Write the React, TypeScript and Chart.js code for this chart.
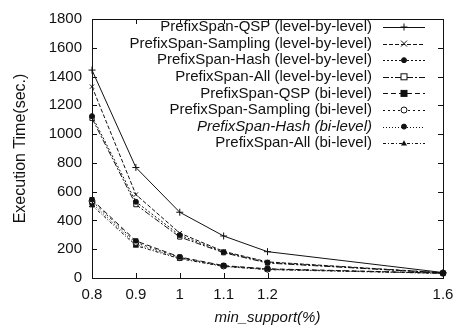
import React, { useEffect, useRef } from "react";
import { Chart, registerables } from "chart.js";

Chart.register(...registerables);

const xValues = [0.8, 0.9, 1.0, 1.1, 1.2, 1.6];
const yTicks = [0, 200, 400, 600, 800, 1000, 1200, 1400, 1600, 1800];

const seriesNames = [
  "PrefixSpan-QSP (level-by-level)",
  "PrefixSpan-Sampling (level-by-level)",
  "PrefixSpan-Hash (level-by-level)",
  "PrefixSpan-All (level-by-level)",
  "PrefixSpan-QSP (bi-level)",
  "PrefixSpan-Sampling (bi-level)",
  "PrefixSpan-Hash (bi-level)",
  "PrefixSpan-All (bi-level)",
];

const qspLevel = [1445, 768, 457, 292, 183, 38];
const samplingLevel = [1330, 580, 312, 185, 112, 36];
const hashLevel = [1125, 530, 298, 180, 108, 35];
const allLevel = [1110, 510, 285, 176, 104, 35];
const qspBi = [545, 258, 146, 86, 64, 34];
const samplingBi = [535, 248, 142, 84, 62, 33];
const hashBi = [520, 235, 138, 82, 60, 33];
const allBi = [505, 225, 134, 80, 58, 32];

const seriesValues = [qspLevel, samplingLevel, hashLevel, allLevel, qspBi, samplingBi, hashBi, allBi];

const pointStyles = ["cross", "crossRot", "circle", "rect", "rect", "circle", "circle", "triangle"];
const pointFilled = [true, true, true, false, true, false, true, true];
const pointRadii = [3.5, 3, 2.5, 3, 3, 3, 2.5, 3];
const dashes: number[][] = [[], [4, 2], [2, 2], [6, 2, 2, 2], [5, 3], [2, 3], [1, 2], [3, 2, 1, 2]];

const FONT = "'Liberation Sans', Arial, Helvetica, sans-serif";
const INK = "#111";

const framePlugin = {
  id: "frame",
  afterDraw(chart: any) {
    const { ctx, chartArea } = chart;
    const { left, right, top, bottom } = chartArea;
    const xs = chart.scales.x;
    const ys = chart.scales.y;
    ctx.save();
    ctx.strokeStyle = INK;
    ctx.lineWidth = 1;
    ctx.setLineDash([]);
    ctx.strokeRect(Math.round(left) + 0.5, Math.round(top) + 0.5, Math.round(right - left), Math.round(bottom - top));
    const tl = 5;
    ctx.beginPath();
    for (const v of yTicks) {
      const y = Math.round(ys.getPixelForValue(v)) + 0.5;
      ctx.moveTo(left, y);
      ctx.lineTo(left + tl, y);
      ctx.moveTo(right, y);
      ctx.lineTo(right - tl, y);
    }
    for (const v of xValues) {
      const x = Math.round(xs.getPixelForValue(v)) + 0.5;
      ctx.moveTo(x, bottom);
      ctx.lineTo(x, bottom - tl);
      ctx.moveTo(x, top);
      ctx.lineTo(x, top + tl);
    }
    ctx.stroke();

    // legend
    const textRight = right - 71;
    const sx0 = right - 60;
    const sx1 = right - 18;
    const row0 = top + 8;
    const rowH = 16.6;
    ctx.textAlign = "right";
    ctx.textBaseline = "middle";
    chart.data.datasets.forEach((ds: any, i: number) => {
      const y = row0 + i * rowH;
      ctx.fillStyle = INK;
      ctx.font = (i === 6 ? "italic " : "") + `15px ${FONT}`;
      ctx.fillText(ds.label, textRight, y);
      ctx.beginPath();
      ctx.setLineDash(ds.borderDash || []);
      ctx.moveTo(sx0, Math.round(y) + 0.5);
      ctx.lineTo(sx1, Math.round(y) + 0.5);
      ctx.stroke();
      ctx.setLineDash([]);
      const mx = (sx0 + sx1) / 2;
      const r = ds.pointRadius;
      ctx.beginPath();
      const st = ds.pointStyle;
      const filled = ds.pointBackgroundColor !== "#fff";
      if (st === "cross") {
        ctx.moveTo(mx - r, y); ctx.lineTo(mx + r, y);
        ctx.moveTo(mx, y - r); ctx.lineTo(mx, y + r);
        ctx.stroke();
      } else if (st === "crossRot") {
        ctx.moveTo(mx - r, y - r); ctx.lineTo(mx + r, y + r);
        ctx.moveTo(mx + r, y - r); ctx.lineTo(mx - r, y + r);
        ctx.stroke();
      } else if (st === "circle") {
        ctx.arc(mx, y, r, 0, Math.PI * 2);
        ctx.fillStyle = filled ? INK : "#fff";
        ctx.fill();
        ctx.stroke();
      } else if (st === "rect") {
        ctx.fillStyle = filled ? INK : "#fff";
        ctx.fillRect(mx - r, y - r, 2 * r, 2 * r);
        ctx.strokeRect(mx - r, y - r, 2 * r, 2 * r);
      } else if (st === "triangle") {
        ctx.moveTo(mx, y - r); ctx.lineTo(mx + r, y + r * 0.8); ctx.lineTo(mx - r, y + r * 0.8); ctx.closePath();
        ctx.fillStyle = INK; ctx.fill();
      }
    });
    ctx.restore();
  },
};

export default function App() {
  const ref = useRef<HTMLCanvasElement>(null);
  useEffect(() => {
    if (!ref.current) return;
    const datasets = seriesNames.map((name, i) => ({
      label: name,
      data: xValues.map((x, j) => ({ x, y: seriesValues[i][j] })),
      borderColor: INK,
      borderWidth: 1,
      borderDash: dashes[i],
      pointStyle: pointStyles[i],
      pointRadius: pointRadii[i],
      pointBorderColor: INK,
      pointBorderWidth: 1,
      pointBackgroundColor: pointFilled[i] ? INK : "#fff",
      fill: false,
      tension: 0,
      clip: false as any,
    }));
    const chart = new Chart(ref.current, {
      type: "line",
      data: { datasets },
      plugins: [framePlugin],
      options: {
        animation: false,
        responsive: false,
        devicePixelRatio: 1,
        layout: { padding: { left: 0, top: 13, right: 21, bottom: 0 } },
        plugins: { legend: { display: false }, tooltip: { enabled: false } },
        scales: {
          x: {
            type: "linear",
            min: 0.8,
            max: 1.6,
            afterBuildTicks: (s: any) => { s.ticks = xValues.map((v) => ({ value: v })); },
            afterFit: (s: any) => { s.height = 52; },
            grid: { display: false, drawTicks: false },
            border: { display: false },
            ticks: {
              color: INK,
              font: { family: FONT, size: 15 },
              padding: 8,
              maxRotation: 0,
              autoSkip: false,
              callback: (v: any) => String(Math.round(Number(v) * 10) / 10),
            },
            title: {
              display: true,
              text: "min_support(%)",
              color: INK,
              font: { family: FONT, size: 15, style: "italic" },
              padding: { top: 0, bottom: 3 },
            },
          },
          y: {
            type: "linear",
            min: 0,
            max: 1800,
            afterBuildTicks: (s: any) => { s.ticks = yTicks.map((v) => ({ value: v })); },
            afterFit: (s: any) => { s.width = 92; },
            grid: { display: false, drawTicks: false },
            border: { display: false },
            ticks: {
              color: INK,
              font: { family: FONT, size: 15 },
              padding: 10,
              autoSkip: false,
              callback: (v: any) => String(Math.round(Number(v))),
            },
            title: {
              display: true,
              text: "Execution Time(sec.)",
              color: INK,
              font: { family: FONT, size: 16 },
              padding: { top: 11, bottom: 0 },
            },
          },
        },
      },
    });
    return () => chart.destroy();
  }, []);
  return (
    <div style={{ position: "fixed", left: 0, top: 0, width: 464, height: 330, background: "#fff" }}>
      <canvas ref={ref} width={464} height={330} style={{ width: 464, height: 330 }} />
    </div>
  );
}
